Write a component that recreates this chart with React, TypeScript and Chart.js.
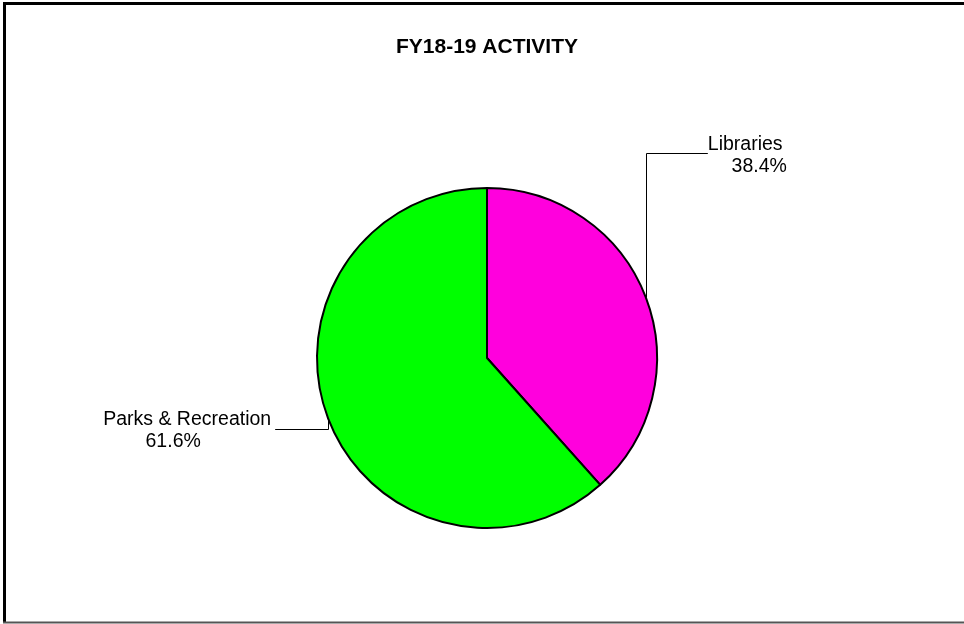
import React, { useEffect, useRef } from "react";
import { Chart, registerables } from "chart.js";

Chart.register(...registerables);

const chartTitle = "FY18-19 ACTIVITY";
const categories = ["Libraries", "Parks & Recreation"];
const values = [38.4, 61.6];
const sliceColors = ["#FF00DD", "#00FF00"];

const FONT = '"Liberation Sans", Arial, sans-serif';

// leader layout per slice: vertical rise (relative to chart centre) and horizontal run
const leaderY = [-205, 71];
const leaderRun = [62, -53];

const decorPlugin = {
  id: "decor",
  beforeDraw(chart: any) {
    const ctx = chart.ctx;
    const W = chart.width;
    const H = chart.height;
    ctx.save();
    ctx.fillStyle = "#ffffff";
    ctx.fillRect(0, 0, W, H);
    ctx.strokeStyle = "#000000";
    ctx.lineWidth = 3;
    ctx.beginPath();
    ctx.moveTo(3, 3.5);
    ctx.lineTo(W, 3.5);
    ctx.moveTo(4.5, 2);
    ctx.lineTo(4.5, H - 2);
    ctx.stroke();
    ctx.strokeStyle = "#555555";
    ctx.lineWidth = 2;
    ctx.beginPath();
    ctx.moveTo(3, H - 1.5);
    ctx.lineTo(W, H - 1.5);
    ctx.stroke();
    ctx.restore();
  },
  afterDatasetsDraw(chart: any) {
    const ctx = chart.ctx;
    const meta = chart.getDatasetMeta(0);
    const total = values.reduce((a, b) => a + b, 0);
    const area = chart.chartArea;
    const cxA = (area.left + area.right) / 2;
    ctx.save();
    // title
    ctx.fillStyle = "#000";
    ctx.font = `bold 21px ${FONT}`;
    ctx.textAlign = "center";
    ctx.textBaseline = "alphabetic";
    ctx.fillText(chartTitle, cxA, 53);

    meta.data.forEach((arc: any, i: number) => {
      const p = arc.getProps(["x", "y", "startAngle", "endAngle", "outerRadius"], true);
      const mid = (p.startAngle + p.endAngle) / 2;
      const sx = p.x + Math.cos(mid) * p.outerRadius;
      const sy = p.y + Math.sin(mid) * p.outerRadius;
      const ly = p.y + leaderY[i];
      const ex = sx + leaderRun[i];
      ctx.strokeStyle = "#000";
      ctx.lineWidth = 1;
      ctx.beginPath();
      ctx.moveTo(Math.round(sx) + 0.5, sy);
      ctx.lineTo(Math.round(sx) + 0.5, Math.round(ly) + 0.5);
      ctx.lineTo(ex, Math.round(ly) + 0.5);
      ctx.stroke();

      const pct = ((values[i] / total) * 100).toFixed(1) + "%";
      ctx.font = `19.5px ${FONT}`;
      ctx.fillStyle = "#000";
      ctx.textBaseline = "alphabetic";
      if (leaderRun[i] > 0) {
        ctx.textAlign = "left";
        ctx.fillText(categories[i], ex, ly - 3);
        ctx.textAlign = "right";
        ctx.fillText(pct, ex + 79, ly + 19);
      } else {
        ctx.textAlign = "right";
        ctx.fillText(categories[i], ex - 4, ly - 4);
        ctx.textAlign = "center";
        ctx.fillText(pct, ex - 102, ly + 18);
      }
    });
    ctx.restore();
  },
};

export default function App() {
  const ref = useRef<HTMLCanvasElement>(null);
  useEffect(() => {
    if (!ref.current) return;
    const chart = new Chart(ref.current, {
      type: "pie",
      data: {
        labels: categories,
        datasets: [
          {
            data: values,
            backgroundColor: sliceColors,
            borderColor: "#000000",
            borderWidth: 2,
            borderAlign: "center",
          },
        ],
      },
      options: {
        responsive: false,
        animation: false,
        layout: { padding: { left: 316, right: 306, top: 187, bottom: 95 } },
        plugins: {
          legend: { display: false },
          title: { display: false },
          tooltip: { enabled: false },
        },
      },
      plugins: [decorPlugin],
    });
    return () => chart.destroy();
  }, []);
  return (
    <div style={{ position: "fixed", left: 0, top: 0, width: 964, height: 624, background: "#fff" }}>
      <canvas ref={ref} width={964} height={624} style={{ width: 964, height: 624, display: "block" }} />
    </div>
  );
}
